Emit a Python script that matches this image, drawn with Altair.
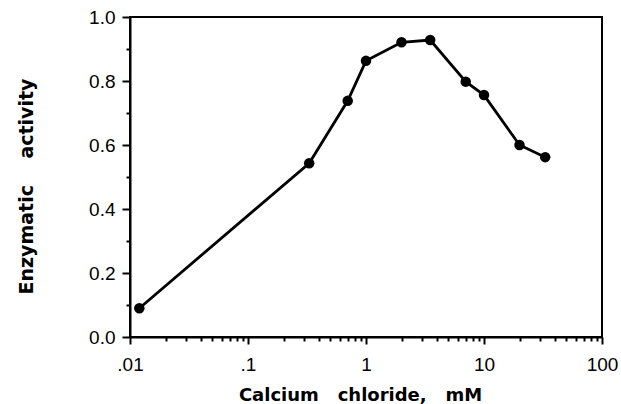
import altair as alt
import pandas as pd

# Data
conc = [0.012, 0.33, 0.70, 1.0, 2.0, 3.5, 7.0, 10.0, 20.0, 33.0]
activity = [0.09, 0.543, 0.738, 0.863, 0.921, 0.928, 0.798, 0.756, 0.600, 0.562]

x_major = [0.01, 0.1, 1, 10, 100]
x_labels = [".01", ".1", "1", "10", "100"]
y_ticks = [0.0, 0.1, 0.2, 0.3, 0.4, 0.5, 0.6, 0.7, 0.8, 0.9, 1.0]

x_minor = [d * m for d in x_major[:-1] for m in range(2, 10)]
x_values = sorted(x_major + x_minor)

df = pd.DataFrame({"conc": conc, "activity": activity})

lab_expr = ""
for v, l in zip(x_major, x_labels):
    lab_expr += f"abs(datum.value - {v}) < {v}*1e-6 ? '{l}' : "
lab_expr += "''"

major_test_x = "abs(log(datum.value)/LN10 - round(log(datum.value)/LN10)) < 1e-6"
major_test_y = "round(datum.value*10) % 2 == 0"

FONT = "Liberation Sans"
TFONT = "DejaVu Sans"
NB = "\u00a0"

x_enc = alt.X(
    "conc:Q",
    scale=alt.Scale(type="log", domain=[0.01, 100], nice=False),
    axis=alt.Axis(
        values=x_values,
        labelExpr=lab_expr,
        tickSize={"condition": {"test": major_test_x, "value": 7}, "value": 4},
        labelPadding=11,
        labelFontSize=19,
        labelFont=FONT,
        labelColor="black",
        title=f"Calcium{NB*3}chloride,{NB*3}mM",
        titleFont=TFONT,
        titleFontSize=18,
        titleFontWeight="bold",
        titleColor="black",
        titleX=230,
        titleY=63,
        titleBaseline="alphabetic",
        titleAlign="center",
        grid=False,
        labelFlush=False,
        labelOverlap=False,
    ),
)
y_enc = alt.Y(
    "activity:Q",
    scale=alt.Scale(domain=[0, 1], nice=False),
    axis=alt.Axis(
        values=y_ticks,
        labelExpr=f"{major_test_y} ? format(datum.value, '.1f') : ''",
        tickSize={"condition": {"test": major_test_y, "value": 8}, "value": 4},
        labelPadding=7,
        labelFontSize=19,
        labelFont=FONT,
        labelColor="black",
        title=f"Enzymatic{NB*4}activity",
        titleFont=TFONT,
        titleFontSize=19,
        titleFontWeight="bold",
        titleColor="black",
        titleAngle=-90,
        titleX=-98,
        titleY=169,
        titleAlign="center",
        titleBaseline="alphabetic",
        grid=False,
        labelOverlap=False,
        labelFlush=False,
    ),
)

base = alt.Chart(df).encode(x=x_enc, y=y_enc)
line = base.mark_line(color="black", strokeWidth=2.8)
pts = base.mark_circle(color="black", opacity=1, size=110)

chart = (
    alt.layer(line, pts)
    .properties(
        width=472,
        height=320,
        autosize=alt.AutoSizeParams(type="none"),
        padding={"left": 130, "top": 17, "right": 19, "bottom": 67},
        background="white",
    )
    .configure_view(stroke="black", strokeWidth=2)
    .configure_axis(
        domainColor="black",
        domainWidth=2,
        tickColor="black",
        tickWidth=2,
    )
)

chart.save("out.html", embed_options={"renderer": "svg", "actions": False})
